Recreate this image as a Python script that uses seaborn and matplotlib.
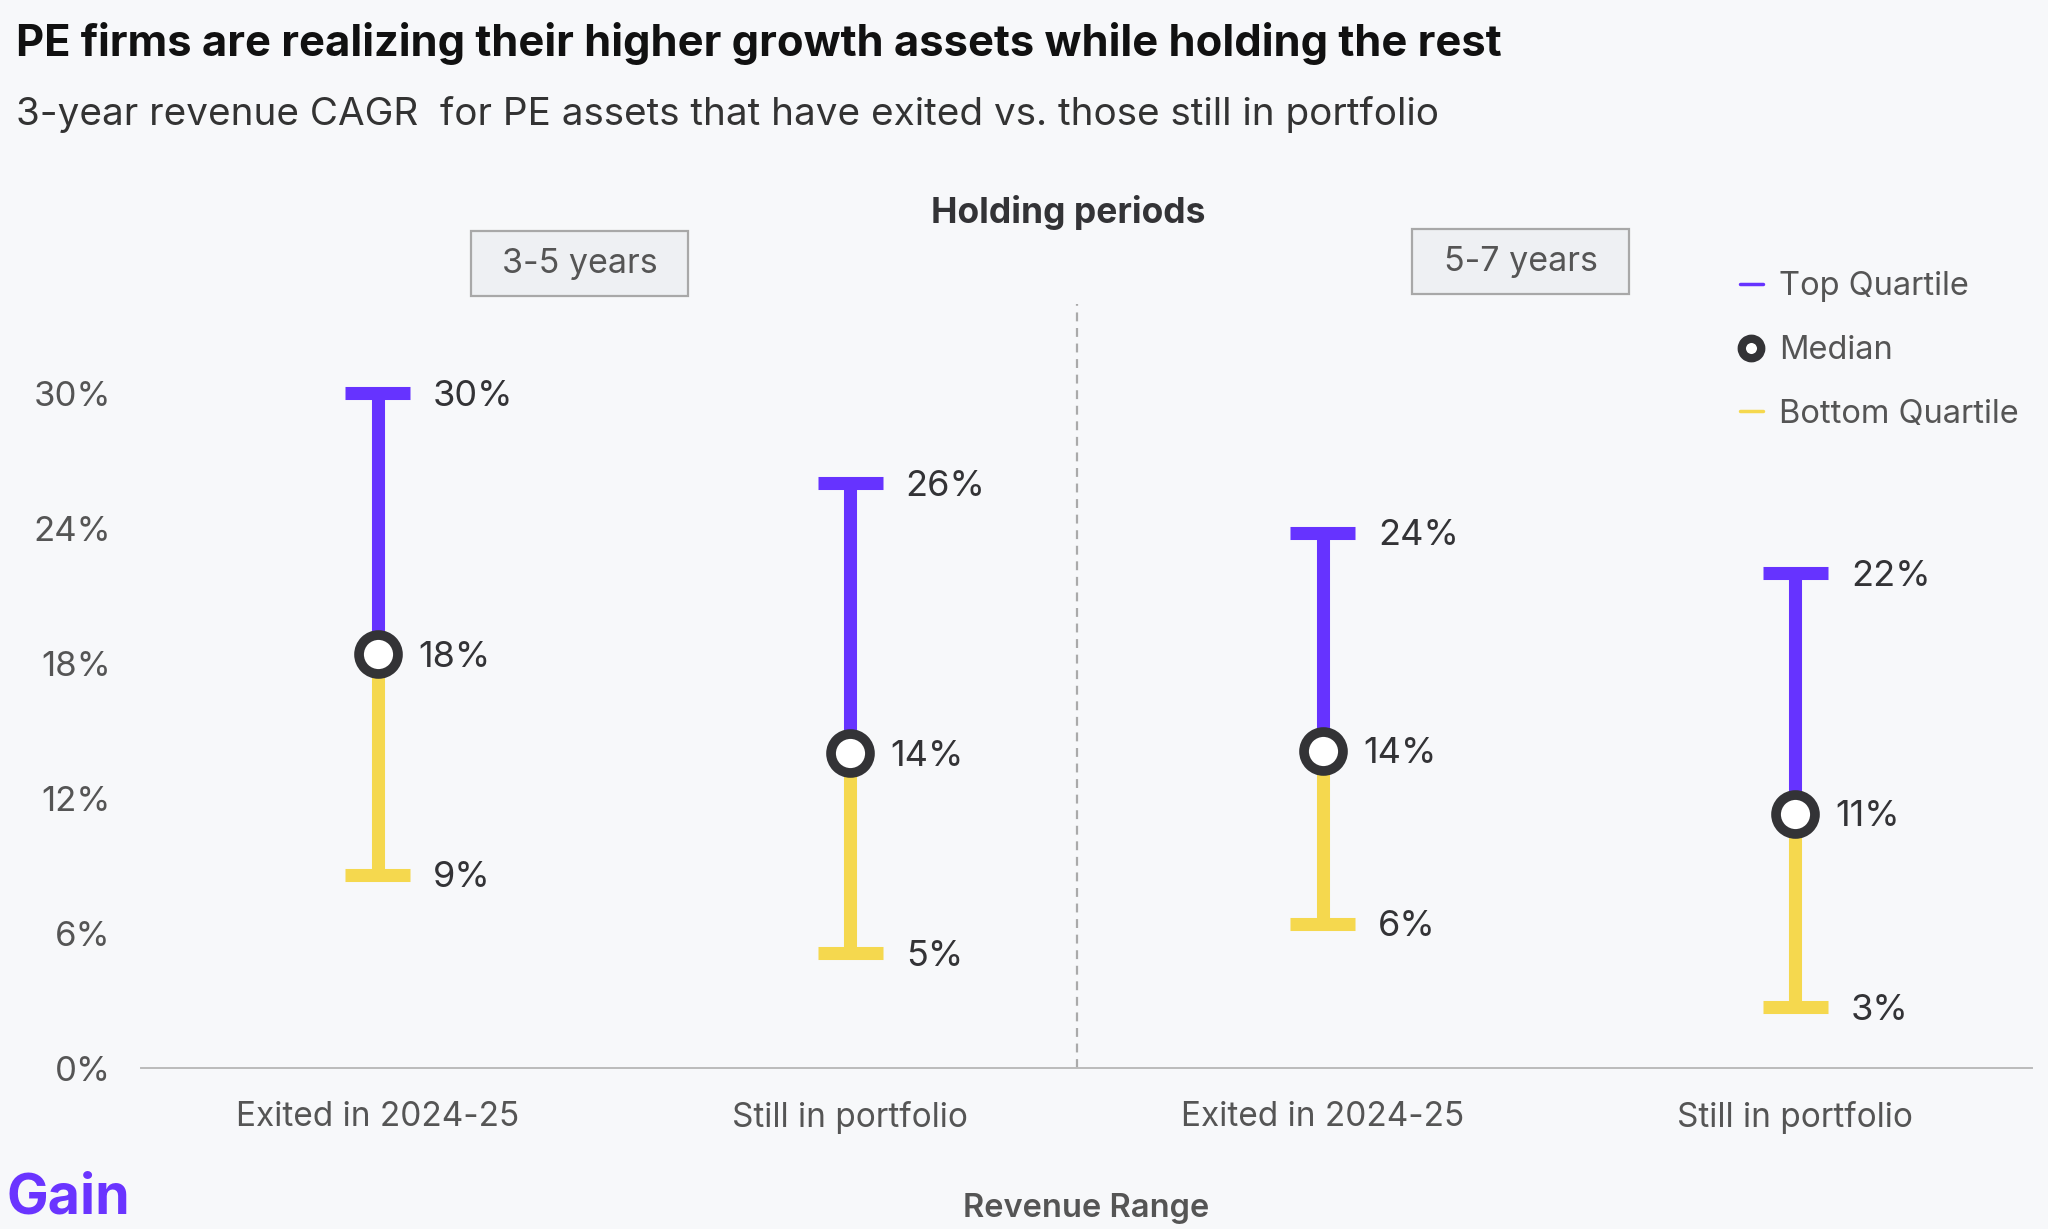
import matplotlib.pyplot as plt
import matplotlib.patches as mpatches
from matplotlib.lines import Line2D
import numpy as np
import pandas as pd
import seaborn as sns

# ~~~~~~~~~  Data  ~~~~~~~~~~~~~~~~~~~~~~~~~~~~~~~~~~~~~~~~~~~~~~~~~~~~~~~~~~~~ #
groups = ['Exited in 2024-25', 'Still in portfolio', 'Exited in 2024-25', 'Still in portfolio']
periods = ['3-5 years', '5-7 years']
top_q = [30.0, 26.0, 23.8, 22.0]
median = [18.4, 14.0, 14.1, 11.3]
bottom_q = [8.6, 5.1, 6.4, 2.7]
yticks = [0, 6, 12, 18, 24, 30]

# ~~~~~~~~~  Style  ~~~~~~~~~~~~~~~~~~~~~~~~~~~~~~~~~~~~~~~~~~~~~~~~~~~~~~~~~~~ #
bg = '#f7f8fa'
purple = '#6633ff'
yellow = '#f5d84e'
dark = '#333336'
grey_txt = '#555555'

sns.set_style('white')
plt.rcParams['font.family'] = ['Inter', 'DejaVu Sans']

df = pd.DataFrame({'x': np.arange(len(groups)), 'group': groups,
                   'top': top_q, 'median': median, 'bottom': bottom_q})

fig = plt.figure(figsize=(20.48, 12.29), dpi=100)
fig.patch.set_facecolor(bg)
ax = fig.add_axes([0.069, 0.131, 0.923, 0.622])
ax.set_facecolor(bg)

# stems: purple above median, yellow below
ax.vlines(df['x'], df['median'], df['top'], color=purple, lw=9.4, zorder=2)
ax.vlines(df['x'], df['bottom'], df['median'], color=yellow, lw=9.4, zorder=2)
# caps
cap = 0.069
ax.hlines(df['top'], df['x'] - cap, df['x'] + cap, color=purple, lw=9.4, zorder=2)
ax.hlines(df['bottom'], df['x'] - cap, df['x'] + cap, color=yellow, lw=9.4, zorder=2)
# medians
sns.scatterplot(data=df, x='x', y='median', s=784, color='white', edgecolor=dark,
                linewidth=7, zorder=5, ax=ax, legend=False)

# value labels
for _, r in df.iterrows():
    for col, dx in [('top', 40), ('bottom', 40), ('median', 29)]:
        ax.annotate(f"{r[col]:.0f}%", (r['x'], r[col]), xytext=(dx, -2),
                    textcoords='offset points', ha='left', va='center',
                    fontsize=26, color=dark)

# separator between holding periods
ax.axvline(1.48, color='#aaaaaa', lw=1.6, ls=(0, (4, 3)), zorder=1)

# axes
ax.set_xlim(-0.5, 3.5)
ax.set_ylim(0, 34)
ax.set_yticks(yticks)
ax.set_yticklabels([f'{t}%' for t in yticks])
ax.set_xticks(df['x'])
ax.set_xticklabels(groups)
ax.set_xticks(np.arange(-0.5, 4, 1), minor=True)
ax.tick_params(axis='x', which='major', length=0, pad=24, labelsize=24, labelcolor=grey_txt)
ax.tick_params(axis='x', which='minor', length=9, width=1.2, color='#bbbbbb', direction='out')
ax.tick_params(axis='y', length=0, pad=22, labelsize=25, labelcolor=grey_txt)
for s in ['top', 'right', 'left']:
    ax.spines[s].set_visible(False)
ax.spines['bottom'].set_color('#bbbbbb')
ax.spines['bottom'].set_linewidth(1.4)
ax.set_xlabel('Revenue Range', fontsize=23.5, fontweight='semibold', color=grey_txt, labelpad=42)
ax.set_ylabel('')

# titles
fig.text(0.008, 0.965, 'PE firms are realizing their higher growth assets while holding the rest',
         fontsize=31.3, fontweight='bold', color='#111111', va='center', ha='left')
fig.text(0.008, 0.907, '3-year revenue CAGR  for PE assets that have exited vs. those still in portfolio',
         fontsize=27.8, color='#333333', va='center', ha='left')
fig.text(0.5215, 0.827, 'Holding periods', fontsize=25.5, fontweight='bold', color=dark,
         ha='center', va='center')

# period boxes
for (x0, y0), label in zip([(471, 231), (1412, 229)], periods):
    w, h = 217, 65
    rect = mpatches.Rectangle((x0 / 2048, 1 - (y0 + h) / 1229), w / 2048, h / 1229,
                              transform=fig.transFigure, facecolor='#eef0f3',
                              edgecolor='#a8a8a8', lw=1.6)
    fig.patches.append(rect)
    fig.text((x0 + w / 2) / 2048, 1 - (y0 + h / 2) / 1229, label, fontsize=24.5,
             color=grey_txt, ha='center', va='center')

# legend
handles = [Line2D([0], [0], color=purple, lw=2.5),
           Line2D([0], [0], marker='o', color='none', markerfacecolor='white',
                  markeredgecolor=dark, markersize=14, markeredgewidth=6),
           Line2D([0], [0], color=yellow, lw=2.5)]
fig.legend(handles, ['Top Quartile', 'Median', 'Bottom Quartile'], loc='upper right',
           bbox_to_anchor=(1.0, 0.803), frameon=False, fontsize=23.5, labelcolor=grey_txt,
           handlelength=0.7, handletextpad=0.5, labelspacing=1.0)

# logo
fig.text(0.003, 0.025, 'Gain', fontsize=40, fontweight='bold', color='#6a34ff',
         ha='left', va='center')

fig.savefig('out.png', dpi=100, facecolor=bg)
